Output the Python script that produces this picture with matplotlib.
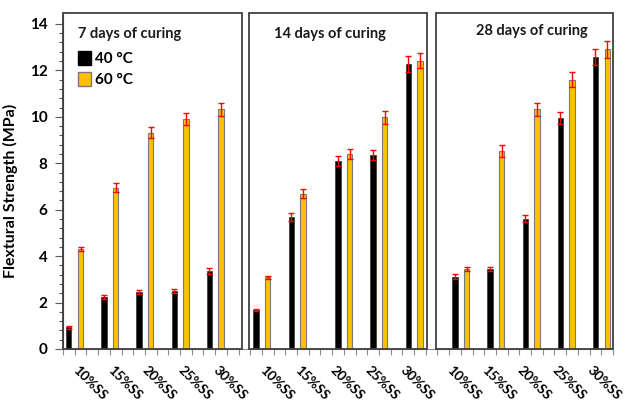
import numpy as np
import matplotlib
matplotlib.use('Agg')
import matplotlib.pyplot as plt
from matplotlib.patches import Rectangle, Patch
from matplotlib import rcParams

rcParams['font.family'] = ['Lato', 'DejaVu Sans']
rcParams['font.weight'] = 'bold'

# ---- data (MPa) ----
mixes = ['10%SS', '15%SS', '20%SS', '25%SS', '30%SS']
panel_titles = ['7 days of curing', '14 days of curing', '28 days of curing']

days7_40 = [0.93, 2.23, 2.47, 2.51, 3.36]
days7_60 = [4.30, 6.95, 9.31, 9.91, 10.32]
err7_40 = [0.05, 0.08, 0.08, 0.08, 0.12]
err7_60 = [0.10, 0.20, 0.24, 0.27, 0.28]

days14_40 = [1.68, 5.70, 8.10, 8.36, 12.28]
days14_60 = [3.09, 6.69, 8.40, 9.97, 12.42]
err14_40 = [0.05, 0.17, 0.23, 0.23, 0.34]
err14_60 = [0.07, 0.19, 0.23, 0.28, 0.32]

days28_40 = [3.12, 3.45, 5.60, 9.95, 12.57]
days28_60 = [3.45, 8.53, 10.32, 11.59, 12.90]
err28_40 = [0.10, 0.10, 0.15, 0.27, 0.34]
err28_60 = [0.08, 0.24, 0.28, 0.32, 0.35]

series_40 = [days7_40, days14_40, days28_40]
series_60 = [days7_60, days14_60, days28_60]
errors_40 = [err7_40, err14_40, err28_40]
errors_60 = [err7_60, err14_60, err28_60]

# ---- layout: the x axis is cut into 47 slots, one bar per slot ----
n_slots = 47
group_slots = [[0, 3, 6, 9, 12], [16, 19, 23, 26, 29], [33, 36, 39, 42, 45]]
label_slots = [[1, 4, 7, 10, 13], [17, 20, 23, 26, 29], [33, 36, 39, 42, 45]]
panel_edges = [(0.0, 15.27), (15.92, 31.13), (31.88, 47.0)]
title_pos = [(1.25, 13.57), (18.05, 13.56), (35.3, 13.70)]
ytop = 14.47

c40 = '#000000'
c60 = '#FFC000'
err_c = '#FF0000'
bar_w = 0.45

fig = plt.figure(figsize=(6.25, 4.03), dpi=100)
ax = fig.add_axes([63 / 625, 54 / 403, 550 / 625, 336 / 403])

for p in range(3):
    x40 = np.array(group_slots[p]) + 0.5
    x60 = x40 + 1.0
    ax.bar(x40, series_40[p], width=bar_w, color=c40, edgecolor='#404040',
           linewidth=0.6, zorder=3)
    ax.bar(x60, series_60[p], width=bar_w, color=c60, edgecolor='#7a7a7a',
           linewidth=0.8, zorder=3)
    ax.errorbar(x40, series_40[p], yerr=errors_40[p], fmt='none', ecolor=err_c,
                elinewidth=1.0, capsize=2.2, capthick=1.0, zorder=4)
    ax.errorbar(x60, series_60[p], yerr=errors_60[p], fmt='none', ecolor=err_c,
                elinewidth=1.0, capsize=2.2, capthick=1.0, zorder=4)

    # panel frame
    x0, x1 = panel_edges[p]
    ax.add_patch(Rectangle((x0, 0), x1 - x0, ytop, fill=False,
                           edgecolor='#404040', linewidth=1.3, zorder=5,
                           clip_on=False))
    ax.text(title_pos[p][0], title_pos[p][1], panel_titles[p], fontsize=10.5,
            fontweight='bold', ha='left', va='center', color='#1a1a1a')

ax.set_xlim(0, n_slots)
ax.set_ylim(0, ytop)

# x ticks: a small mark at every slot edge, labels rotated under the groups
ax.set_xticks(np.arange(0, n_slots + 1), minor=True)
ax.set_xticks([s + 0.35 for row in label_slots for s in row])
ax.set_xticklabels(mixes * 3, rotation=-45, ha='left', rotation_mode='anchor',
                   fontsize=9.8, fontweight='bold')
ax.tick_params(axis='x', which='major', length=0, pad=11)
ax.tick_params(axis='x', which='minor', length=4, width=0.8, color='#8c8c8c')

ax.set_yticks(np.arange(0, 15, 2))
ax.set_yticks(np.arange(0, 14.01, 0.4), minor=True)
ax.tick_params(axis='y', which='major', length=6, width=0.8, color='#595959',
               labelsize=11, pad=5)
ax.tick_params(axis='y', which='minor', length=3, width=0.8, color='#595959')

for side in ['top', 'right']:
    ax.spines[side].set_visible(False)
ax.spines['left'].set_color('#404040')
ax.spines['bottom'].set_color('#8c8c8c')

ax.set_ylabel('Flextural Strength (MPa)', fontsize=11.5, fontweight='bold')
ax.yaxis.set_label_coords(-45 / 550, 158 / 336)

handles = [Patch(facecolor=c40, edgecolor='#000000', label='40 °C'),
           Patch(facecolor=c60, edgecolor='#7a7a7a', label='60 °C')]
ax.legend(handles=handles, loc='upper left', bbox_to_anchor=(0.01, 0.915),
          frameon=False, handlelength=0.9, handleheight=1.1,
          handletextpad=0.25, labelspacing=0.35, borderpad=0.1,
          prop={'weight': 'bold', 'size': 11})

fig.savefig('out.png', dpi=100)
